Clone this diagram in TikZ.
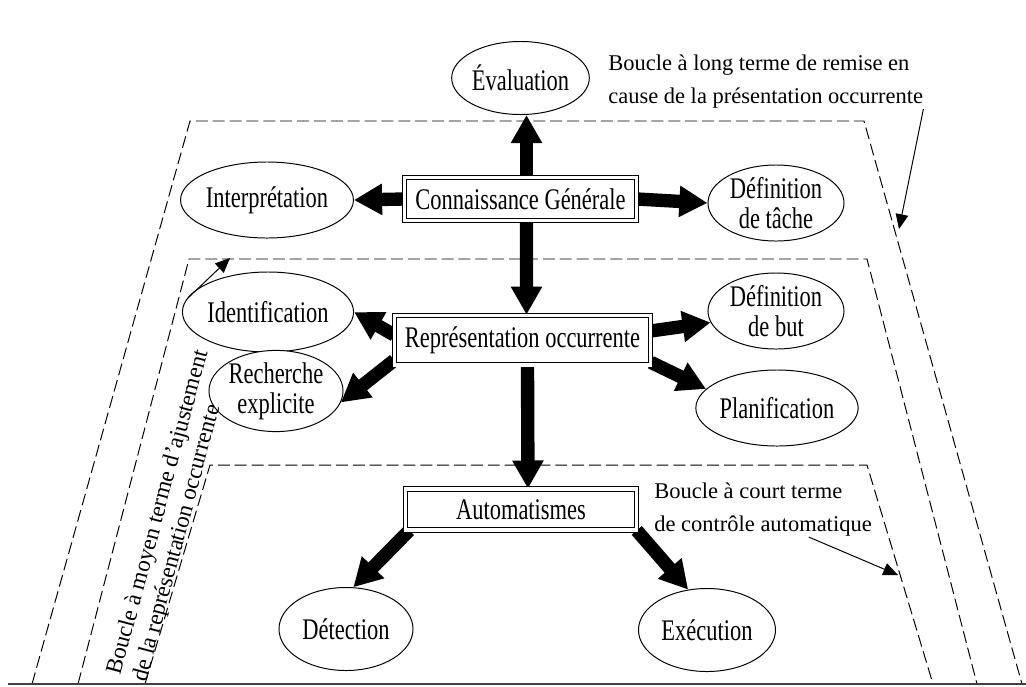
\documentclass[tikz,border=0pt]{standalone}
\usepackage{fontspec}
\setmainfont{Liberation Serif}
\newfontfamily\boxfont{Liberation Serif}[FakeStretch=0.75]
\usetikzlibrary{arrows.meta,shapes.geometric,backgrounds,calc}

\tikzset{
  oval/.style={ellipse, draw, line width=0.7pt, fill=white, inner sep=0pt,
    align=center, font=\boxfont\fontsize{21.3}{21.5}\selectfont},
  dbox/.style={rectangle, draw, double, double distance=2.4pt, line width=0.7pt,
    fill=white, inner sep=0pt, font=\boxfont\fontsize{21.3}{21.5}\selectfont},
  bigarrow/.style={line width=9.5pt, -{Triangle[length=20pt,width=21pt]}},
  thinarrow/.style={line width=0.7pt, -{Triangle[length=10.5pt,width=9pt]}},
  loopline/.style={dash pattern=on 8.5pt off 3.5pt, line width=0.7pt},
  looplabel/.style={align=left, inner sep=0pt, font=\fontsize{16}{23.5}\selectfont}
}

\begin{document}
\begin{tikzpicture}[x=0.025cm,y=-0.025cm]
\useasboundingbox (0,0) rectangle (1026,686);
% the three loops
\draw[loopline] (32,684) -- (190,121) -- (864,121) -- (1022,684);
\draw[loopline] (78,684) -- (189,259) -- (867,259) -- (977,684);
\draw[loopline] (145,684) -- (210,465) -- (867,465) -- (933,684);
\draw[line width=1.4pt,black!75] (8,684) -- (1026,684);

% boxes
\node[dbox,minimum width=58mm,minimum height=10.6mm] (conn) at (520.5,199) {Connaissance Générale};
\node[dbox,minimum width=63.9mm,minimum height=12.4mm] (rep) at (522.5,340) {Représentation occurrente};
\node[dbox,minimum width=57.6mm,minimum height=10.2mm] (aut) at (521,509.5) {Automatismes};

% ovals
\node[oval,minimum width=31.25mm,minimum height=18.25mm] (eval) at (520.5,78) {Évaluation};
\node[oval,minimum width=33.5mm,minimum height=19mm] (interp) at (267,200) {Interprétation};
\node[oval,minimum width=34mm,minimum height=19mm] (deftache) at (776,203) {Définition\\de tâche};
\node[oval,minimum width=34mm,minimum height=20mm] (ident) at (268,312) {Identification};
\node[oval,minimum width=34mm,minimum height=19mm] (defbut) at (776,311) {Définition\\de but};
\node[oval,minimum width=33.5mm,minimum height=20mm] (rech) at (276,391) {Recherche\\explicite};
\node[oval,minimum width=34mm,minimum height=19mm] (plan) at (777,408) {Planification};
\node[oval,minimum width=33.5mm,minimum height=20.75mm] (det) at (346,629) {Détection};
\node[oval,minimum width=34.25mm,minimum height=20.75mm] (exec) at (707,630) {Exécution};

% loop labels
\node[looplabel,anchor=north west] (longlbl) at (608,55) {Boucle à long terme de remise en\\cause de la présentation occurrente};
\node[looplabel,anchor=north west] (shortlbl) at (654,483) {Boucle à court terme\\de contrôle automatique};
\node[looplabel,font=\fontsize{16.5}{18.5}\selectfont,rotate=75] (midlbl) at (171.5,516) {Boucle à moyen terme d’ajustement\\de la représentation occurrente};

\coordinate (longtip) at (899,229);
\coordinate (shorttip) at (898,575);
\coordinate (midtail) at (188,298);
\coordinate (midtip) at (230,258);
\draw[thinarrow] (longlbl.south east) -- (longtip);
\draw[thinarrow] ($(shortlbl.south west)!0.71!(shortlbl.south east)$) -- (shorttip);
\draw[thinarrow] (midtail) -- (midtip);

% thick arrows
\begin{scope}[on background layer]
\draw[bigarrow] ([xshift=1.5mm]conn.north) -- ([xshift=1.5mm]eval.south);
\draw[bigarrow] (conn.west) -- (interp.east);
\draw[bigarrow] (conn.east) -- (deftache.west);
\draw[bigarrow] ([xshift=1.5mm]conn.south) -- ([xshift=1mm]rep.north);
\draw[bigarrow] ([yshift=1.25mm]rep.west) -- (ident.east);
\draw[bigarrow] ([yshift=1.25mm]rep.south west) -- (rech.-10);
\draw[bigarrow] ([yshift=2.25mm]rep.east) -- (defbut.190);
\draw[bigarrow] ([yshift=0.75mm]rep.south east) -- (plan.165);
\draw[bigarrow] ([xshift=1.25mm]rep.south) -- ([xshift=1.75mm]aut.north);
\draw[bigarrow] ([xshift=1mm]aut.south west) -- (det.80);
\draw[bigarrow] (aut.south east) -- (exec.115);
\end{scope}
\end{tikzpicture}
\end{document}
